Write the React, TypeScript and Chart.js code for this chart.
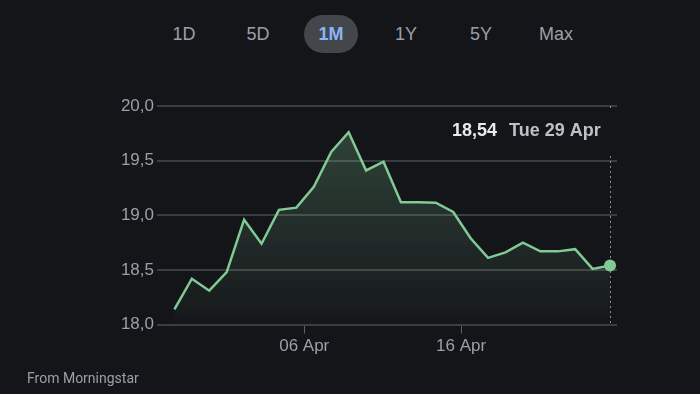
import React, { useEffect, useRef } from "react";
import { Chart, registerables } from "chart.js";

Chart.register(...registerables);

// ---- data ----
const prices = [
  18.14, 18.42, 18.31, 18.48, 18.96, 18.74, 19.05, 19.07, 19.26, 19.58,
  19.76, 19.41, 19.49, 19.12, 19.12, 19.115, 19.03, 18.79, 18.61, 18.66,
  18.75, 18.67, 18.67, 18.69, 18.51, 18.54,
];
const xTickLabels = ["06 Apr", "16 Apr"];
const xTickAt = [7.45, 16.45];
const yTicks = [18.0, 18.5, 19.0, 19.5, 20.0];
const ranges = ["1D", "5D", "1M", "1Y", "5Y", "Max"];
const activeRange = "1M";
const lastValueText = "18,54";
const lastDateText = "Tue 29 Apr";
const sourceText = "From Morningstar";

const BG = "#141519";
const GRID = "#3a3d42";
const LABEL = "#9aa0a6";
const GREEN = "#81c995";
const FONT = "Arial, 'Liberation Sans', sans-serif";

export default function App() {
  const canvasRef = useRef<HTMLCanvasElement | null>(null);

  useEffect(() => {
    const canvas = canvasRef.current;
    if (!canvas) return;
    const lastIdx = prices.length - 1;

    const hoverPlugin = {
      id: "hoverInfo",
      beforeDatasetsDraw(chart: any) {
        const { ctx, chartArea } = chart;
        const meta = chart.getDatasetMeta(0);
        const pt = meta.data[lastIdx];
        if (!pt) return;
        const x = Math.round(pt.x) + 0.5;
        ctx.save();
        ctx.strokeStyle = "#8a8f95";
        ctx.lineWidth = 1;
        ctx.setLineDash([2, 3]);
        ctx.beginPath();
        ctx.moveTo(x, chartArea.top);
        ctx.lineTo(x, chartArea.bottom);
        ctx.stroke();
        ctx.setLineDash([]);
        // label box background
        ctx.fillStyle = BG;
        ctx.fillRect(440, chartArea.top + 5, x - 440 + 6, 44);
        ctx.textBaseline = "middle";
        ctx.textAlign = "left";
        ctx.font = `bold 18px ${FONT}`;
        ctx.fillStyle = "#e8eaed";
        ctx.fillText(lastValueText, 452, 131);
        ctx.font = `bold 18px ${FONT}`;
        ctx.fillStyle = "#bdc1c6";
        ctx.fillText(lastDateText, 509, 131);
        ctx.restore();
      },
    };

    const chart = new Chart(canvas, {
      type: "line",
      data: {
        datasets: [
          {
            data: prices.map((v, i) => ({ x: i, y: v })),
            borderColor: GREEN,
            borderWidth: 2.5,
            tension: 0,
            fill: "start",
            backgroundColor: (c: any) => {
              const area = c.chart.chartArea;
              if (!area) return "rgba(129,201,149,0.1)";
              const g = c.chart.ctx.createLinearGradient(0, area.top + 20, 0, area.bottom);
              g.addColorStop(0, "rgba(129,201,149,0.26)");
              g.addColorStop(1, "rgba(129,201,149,0.02)");
              return g;
            },
            pointRadius: (c: any) => (c.dataIndex === lastIdx ? 6 : 0),
            pointBackgroundColor: GREEN,
            pointBorderWidth: 0,
            pointHoverRadius: 0,
          },
        ],
      },
      options: {
        animation: false,
        responsive: false,
        maintainAspectRatio: false,
        events: [],
        layout: { padding: { left: 0, right: 83, top: 106, bottom: 34 } },
        plugins: {
          legend: { display: false },
          tooltip: { enabled: false },
        },
        scales: {
          x: {
            type: "linear",
            min: -1,
            max: 25.4,
            afterBuildTicks: (scale: any) => {
              scale.ticks = xTickAt.map((v) => ({ value: v }));
            },
            ticks: {
              autoSkip: false,
              maxRotation: 0,
              color: LABEL,
              padding: 3,
              font: { family: FONT, size: 17 },
              callback: (_v: any, i: number) => xTickLabels[i],
            },
            grid: {
              drawOnChartArea: false,
              drawTicks: true,
              tickLength: 9,
              color: "#5f6368",
            },
            border: { display: false },
          },
          y: {
            type: "linear",
            min: 18,
            max: 20,
            afterBuildTicks: (scale: any) => {
              scale.ticks = yTicks.map((v) => ({ value: v }));
            },
            afterFit: (scale: any) => {
              scale.width = 157;
            },
            ticks: {
              color: LABEL,
              padding: 3,
              font: { family: FONT, size: 17 },
              callback: (v: any) => Number(v).toFixed(1).replace(".", ","),
            },
            grid: { color: GRID, lineWidth: 2, drawTicks: false },
            border: { display: false },
          },
        },
      },
      plugins: [hoverPlugin],
    });

    return () => chart.destroy();
  }, []);

  const btnCenters = [184, 258, 331, 406, 481, 556];

  return (
    <div
      style={{
        position: "absolute",
        left: 0,
        top: 0,
        width: 700,
        height: 394,
        background: BG,
        overflow: "hidden",
        fontFamily: FONT,
      }}
    >
      {ranges.map((r, i) => {
        const active = r === activeRange;
        return (
          <div
            key={r}
            style={{
              position: "absolute",
              left: btnCenters[i] - 27,
              top: 15,
              width: 54,
              height: 38,
              borderRadius: 19,
              background: active ? "#43464b" : "transparent",
              color: active ? "#8ab4f8" : LABEL,
              fontWeight: active ? 700 : 400,
              fontSize: 18,
              lineHeight: "38px",
              textAlign: "center",
            }}
          >
            {r}
          </div>
        );
      })}
      <canvas
        ref={canvasRef}
        width={700}
        height={394}
        style={{ position: "absolute", left: 0, top: 0, width: 700, height: 394 }}
      />
      <div
        style={{
          position: "absolute",
          left: 27,
          top: 370,
          fontSize: 14,
          color: LABEL,
          fontFamily: "Roboto, Arial, sans-serif",
        }}
      >
        {sourceText}
      </div>
    </div>
  );
}
